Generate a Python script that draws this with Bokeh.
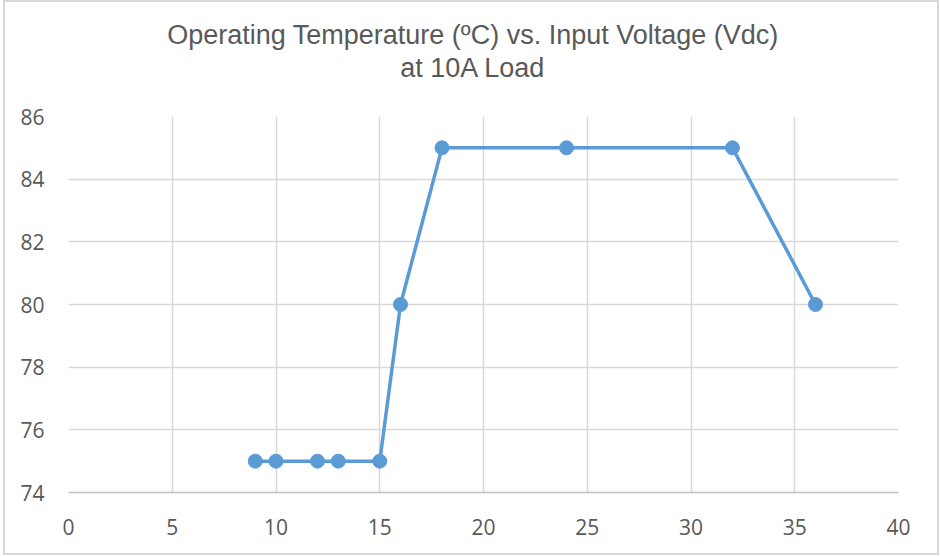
from bokeh.plotting import figure
from bokeh.models import Range1d, Title, FixedTicker
from bokeh.embed import file_html
from bokeh.resources import INLINE

# Data
voltage = [9, 10, 12, 13, 15, 16, 18, 24, 32, 36]
temperature = [75, 75, 75, 75, 75, 80, 85, 85, 85, 80]
x_ticks = [0, 5, 10, 15, 20, 25, 30, 35, 40]
y_ticks = [74, 76, 78, 80, 82, 84, 86]
title_line1 = "Operating Temperature (ºC) vs. Input Voltage (Vdc)"
title_line2 = "at 10A Load"

LINE_COLOR = "#5b9bd5"
TEXT_COLOR = "#595959"
GRID_COLOR = "#d9d9d9"
AXIS_COLOR = "#bfbfbf"
TICK_FONT = "Open Sans"
TITLE_FONT = "Liberation Sans"

p = figure(width=936, height=555, output_backend="svg", toolbar_location=None,
           x_range=Range1d(0, 40), y_range=Range1d(74, 86),
           min_border_left=63, min_border_right=43,
           min_border_top=114, min_border_bottom=65)
p.styles = {"border": "2px solid #d9d9d9", "margin-left": "3px"}
p.outline_line_color = None
p.background_fill_color = "white"
p.border_fill_color = "white"

# axes
for ax in (p.xaxis, p.yaxis):
    ax.major_tick_line_color = None
    ax.minor_tick_line_color = None
    ax.major_label_text_font = TICK_FONT
    ax.major_label_text_font_size = "21px"
    ax.major_label_text_color = TEXT_COLOR
p.xaxis.ticker = FixedTicker(ticks=x_ticks)
p.yaxis.ticker = FixedTicker(ticks=y_ticks)
p.xaxis.axis_line_color = AXIS_COLOR
p.xaxis.axis_line_width = 1.5
p.yaxis.axis_line_color = None
p.xaxis.major_label_standoff = 20
p.yaxis.major_label_standoff = 18

p.xgrid.ticker = FixedTicker(ticks=x_ticks)
p.ygrid.ticker = FixedTicker(ticks=y_ticks)
p.xgrid.grid_line_color = GRID_COLOR
p.ygrid.grid_line_color = GRID_COLOR
p.xgrid.grid_line_width = 1.5
p.ygrid.grid_line_width = 1.5

# series
p.line(voltage, temperature, line_color=LINE_COLOR, line_width=3.5)
p.scatter(voltage, temperature, size=14, fill_color=LINE_COLOR, line_color=LINE_COLOR)

# title (two centred lines); first added sits closest to the frame
for txt, pad_bottom in ((title_line2, 34), (title_line1, 1)):
    p.add_layout(Title(text=txt, align="center",
                       text_font=TITLE_FONT, text_font_size="27px",
                       text_font_style="normal", text_color=TEXT_COLOR,
                       standoff=0,
                       padding=dict(left=0, right=21, top=0, bottom=pad_bottom)),
                 "above")

html = file_html(p, INLINE)
html = html.replace("<head>", "<head><style>html,body{margin:0;padding:0;}</style>", 1)
open("out.html", "w").write(html)
